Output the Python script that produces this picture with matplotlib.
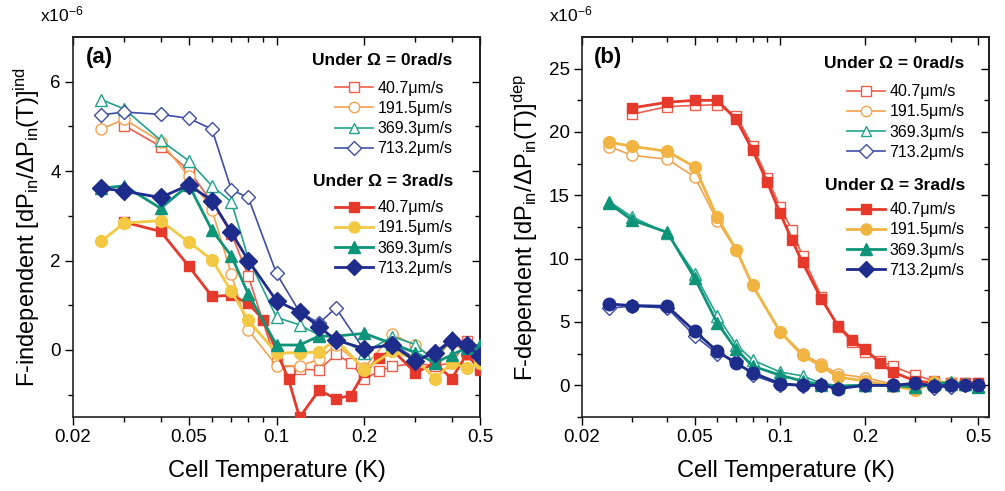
import matplotlib
matplotlib.use("Agg")
import matplotlib.pyplot as plt
from matplotlib.ticker import FixedLocator, NullFormatter, FixedFormatter
from matplotlib.lines import Line2D

plt.rcParams['font.family'] = ['Liberation Sans', 'DejaVu Sans']
plt.rcParams['mathtext.default'] = 'regular'

# ---------------- data: panel (a) F-independent ----------------
a_T_red = [0.03, 0.04, 0.05, 0.06, 0.07, 0.08, 0.1, 0.11, 0.12, 0.14, 0.16, 0.18, 0.2, 0.225, 0.25, 0.3, 0.35, 0.4, 0.45, 0.5]
a_red_0 = [5.02, 4.55, 4.02, 3.3, 2.6, 1.65, -0.3, -0.47, -0.43, -0.45, -0.1, -0.29, -0.66, -0.47, -0.37, -0.3, -0.35, -0.3, 0.2, -0.1]
a_T_red3 = [0.03, 0.04, 0.05, 0.06, 0.07, 0.08, 0.09, 0.11, 0.12, 0.14, 0.16, 0.18, 0.2, 0.225, 0.25, 0.3, 0.35, 0.4, 0.45, 0.5]
a_red_3 = [2.86, 2.65, 1.87, 1.2, 1.22, 1.04, 0.68, -0.66, -1.51, -0.9, -1.09, -1.02, -0.5, -0.17, 0.0, -0.51, -0.3, -0.64, -0.1, -0.44]
a_T = [0.025, 0.03, 0.04, 0.05, 0.06, 0.07, 0.08, 0.1, 0.12, 0.14, 0.16, 0.2, 0.25, 0.3, 0.35, 0.4, 0.45, 0.5]
a_org_0 = [4.94, 5.16, 4.66, 3.88, 3.14, 1.69, 0.44, -0.35, -0.36, -0.21, 0.12, -0.4, 0.35, 0.1, -0.2, 0.2, -0.1, 0.0]
a_org_3 = [2.43, 2.84, 2.89, 2.41, 2.02, 1.31, 0.66, -0.07, -0.06, -0.05, 0.24, -0.44, -0.03, -0.2, -0.64, -0.29, -0.4, -0.3]
a_grn_0 = [5.6, 5.39, 4.69, 4.23, 3.67, 3.31, 2.05, 0.73, 0.56, 0.33, 0.3, -0.06, 0.3, 0.12, -0.25, 0.3, 0.0, 0.05]
a_grn_3 = [3.62, 3.67, 3.17, 3.69, 2.68, 2.1, 1.25, 0.11, 0.11, 0.31, 0.31, 0.37, 0.14, -0.06, -0.29, -0.11, 0.05, 0.11]
a_blu_0 = [5.26, 5.32, 5.27, 5.18, 4.94, 3.58, 3.41, 1.71, 0.85, 0.6, 0.94, 0.0, 0.15, -0.2, -0.05, 0.25, 0.1, -0.1]
a_blu_3 = [3.62, 3.55, 3.41, 3.69, 3.34, 2.63, 2.0, 1.1, 0.85, 0.52, 0.22, 0.03, 0.11, -0.25, -0.06, 0.2, 0.11, -0.14]

# ---------------- data: panel (b) F-dependent ----------------
b_T_red = [0.03, 0.04, 0.05, 0.06, 0.07, 0.08, 0.09, 0.1, 0.11, 0.12, 0.14, 0.16, 0.18, 0.2, 0.225, 0.25, 0.3, 0.35, 0.4, 0.45, 0.5]
b_red_3 = [21.9, 22.35, 22.5, 22.5, 21.0, 18.55, 16.06, 13.6, 11.5, 9.7, 6.8, 4.7, 3.56, 2.83, 1.78, 1.05, 0.34, 0.2, 0.15, 0.2, 0.2]
b_red_0 = [21.4, 22.0, 22.1, 22.15, 21.3, 18.9, 16.4, 14.1, 12.3, 10.2, 7.0, 4.6, 3.4, 2.6, 1.9, 1.5, 0.8, 0.35, 0.2, 0.2, 0.2]
b_T = [0.025, 0.03, 0.04, 0.05, 0.06, 0.07, 0.08, 0.1, 0.12, 0.14, 0.16, 0.2, 0.25, 0.3, 0.35, 0.4, 0.45, 0.5]
b_org_3 = [19.2, 18.87, 18.47, 17.24, 13.26, 10.7, 7.89, 4.22, 2.36, 1.52, 0.65, 0.34, -0.05, -0.37, 0.25, 0.2, 0.1, 0.0]
b_org_0 = [18.85, 18.16, 17.85, 16.45, 13.0, 10.7, 7.9, 4.25, 2.5, 1.65, 0.9, 0.6, 0.1, -0.1, 0.2, 0.15, 0.1, 0.05]
b_grn_3 = [14.36, 13.05, 12.08, 8.46, 4.93, 2.83, 1.52, 0.8, 0.34, 0.05, -0.1, 0.0, 0.0, -0.15, 0.1, 0.25, 0.1, -0.1]
b_grn_0 = [14.5, 13.3, 12.0, 8.8, 5.5, 3.2, 2.0, 1.05, 0.75, 0.15, 0.0, 0.05, 0.0, 0.0, 0.2, 0.1, 0.1, -0.05]
b_blu_3 = [6.42, 6.3, 6.24, 4.27, 2.7, 1.73, 1.0, 0.13, 0.0, 0.0, -0.26, 0.0, 0.0, 0.16, -0.05, 0.0, 0.0, 0.0]
b_blu_0 = [6.1, 6.25, 6.1, 3.9, 2.5, 1.95, 0.8, 0.05, -0.05, 0.0, -0.2, 0.0, 0.0, 0.05, -0.2, -0.1, 0.0, -0.05]

speeds = ['40.7\u03bcm/s', '191.5\u03bcm/s', '369.3\u03bcm/s', '713.2\u03bcm/s']
headers = ['Under \u03a9 = 0rad/s', 'Under \u03a9 = 3rad/s']
xticks_major = [0.02, 0.05, 0.1, 0.2, 0.5]
xticks_minor = [0.03, 0.04, 0.06, 0.07, 0.08, 0.09, 0.3, 0.4]

# colours
c_open = ['#EC5E4B', '#F5A24E', '#22A38C', '#3E4EA8']
c_fill_a = ['#E5392B', '#F3C842', '#0E9479', '#1E2C8C']
c_fill_b = ['#E5392B', '#F1B342', '#0E9479', '#1E2C8C']
m_open = ['s', 'o', '^', 'D']
m_fill = ['s', 'o', '^', 'D']
ms_fill = [7.5, 8.5, 8.5, 9]
ms_open = [7, 8, 8, 7.5]

W, H = 1005, 491
fig = plt.figure(figsize=(W / 100, H / 100), dpi=100)
ax_a = fig.add_axes([73 / W, (H - 417) / H, 407 / W, 380 / H])
ax_b = fig.add_axes([582 / W, (H - 417) / H, 407 / W, 380 / H])


def plot_open(ax, T, y, i):
    ax.plot(T, y, color=c_open[i], lw=1.2, marker=m_open[i], ms=ms_open[i],
            mfc='white', mec=c_open[i], mew=1.0, zorder=2)


def plot_fill(ax, T, y, i, cols, marker=None):
    ax.plot(T, y, color=cols[i], lw=2.0, marker=marker or m_fill[i], ms=ms_fill[i],
            mfc=cols[i], mec=cols[i], mew=1.0, zorder=3)


# panel a
plot_open(ax_a, a_T_red, a_red_0, 0)
plot_open(ax_a, a_T, a_org_0, 1)
plot_open(ax_a, a_T, a_grn_0, 2)
plot_open(ax_a, a_T, a_blu_0, 3)
plot_fill(ax_a, a_T_red3, a_red_3, 0, c_fill_a)
plot_fill(ax_a, a_T, a_org_3, 1, c_fill_a)
plot_fill(ax_a, a_T, a_grn_3, 2, c_fill_a)
plot_fill(ax_a, a_T, a_blu_3, 3, c_fill_a)

# panel b
plot_open(ax_b, b_T_red, b_red_0, 0)
plot_open(ax_b, b_T, b_org_0, 1)
plot_open(ax_b, b_T, b_grn_0, 2)
plot_open(ax_b, b_T, b_blu_0, 3)
plot_fill(ax_b, b_T_red, b_red_3, 0, c_fill_b)
plot_fill(ax_b, b_T, b_org_3, 1, c_fill_b)
plot_fill(ax_b, b_T, b_grn_3, 2, c_fill_b)
plot_fill(ax_b, b_T, b_blu_3, 3, c_fill_b, marker='o')


def fx(px):
    return px / W


def fy(py):
    return 1 - py / H


def style(ax, xlim, ylim, ymaj, ymin, ylabel, tag, tagx, fillcols, leg):
    ax.set_xscale('log')
    ax.set_xlim(*xlim)
    ax.set_ylim(*ylim)
    ax.xaxis.set_major_locator(FixedLocator(xticks_major))
    ax.xaxis.set_major_formatter(FixedFormatter(['0.02', '0.05', '0.1', '0.2', '0.5']))
    ax.xaxis.set_minor_locator(FixedLocator(xticks_minor))
    ax.xaxis.set_minor_formatter(NullFormatter())
    ax.yaxis.set_major_locator(FixedLocator(ymaj))
    ax.yaxis.set_minor_locator(FixedLocator(ymin))
    ax.tick_params(which='major', direction='out', length=6, width=1.0, labelsize=13.5, pad=3)
    ax.tick_params(which='minor', direction='out', length=3.5, width=1.0)
    for s in ax.spines.values():
        s.set_linewidth(1.2)
        s.set_color('#222222')
    ax.set_xlabel('Cell Temperature (K)', fontsize=17, labelpad=10)
    ax.set_ylabel(ylabel, fontsize=17, labelpad=6)
    # mirrored inward ticks on top and right
    top = ax.secondary_xaxis('top')
    top.xaxis.set_major_locator(FixedLocator(xticks_major))
    top.xaxis.set_minor_locator(FixedLocator(xticks_minor))
    top.xaxis.set_major_formatter(NullFormatter())
    top.xaxis.set_minor_formatter(NullFormatter())
    top.tick_params(which='major', direction='in', length=6, width=1.0)
    top.tick_params(which='minor', direction='in', length=3.5, width=1.0)
    top.spines['top'].set_linewidth(1.2)
    right = ax.secondary_yaxis('right')
    right.yaxis.set_major_locator(FixedLocator(ymaj))
    right.yaxis.set_minor_locator(FixedLocator(ymin))
    right.yaxis.set_major_formatter(NullFormatter())
    right.tick_params(which='major', direction='in', length=6, width=1.0)
    right.tick_params(which='minor', direction='in', length=3.5, width=1.0)
    right.spines['right'].set_linewidth(1.2)
    fig.text(fx(tagx), fy(47), tag, fontsize=16, fontweight='bold', ha='left', va='top')
    bb = ax.get_position()
    fig.text(bb.x0 - 33 / W, fy(24), r'x10$^{-6}$', fontsize=12.5, ha='left', va='bottom')
    # legends (headers as text, entries as legends)
    hx, hy0, hy1, lx, ly0, ly1 = leg
    fig.text(fx(hx), fy(hy0), headers[0], fontsize=12.5, fontweight='bold', ha='right', va='center')
    fig.text(fx(hx + 1), fy(hy1), headers[1], fontsize=12.5, fontweight='bold', ha='right', va='center')
    h0 = [Line2D([], [], color=c_open[i], lw=1.2, marker=m_open[i], ms=ms_open[i] - 0.5,
                 mfc='white', mec=c_open[i], mew=1.0) for i in range(4)]
    h3 = [Line2D([], [], color=fillcols[i], lw=2.0, marker=m_fill[i], ms=ms_fill[i] - 0.5,
                 mfc=fillcols[i], mec=fillcols[i]) for i in range(4)]
    kw = dict(frameon=False, fontsize=11.5, handlelength=2.35, handletextpad=0.3,
              labelspacing=0.33, borderpad=0, borderaxespad=0, loc='center left',
              bbox_transform=fig.transFigure)
    leg0 = ax.legend(h0, speeds, bbox_to_anchor=(fx(lx), fy(ly0)), **kw)
    ax.add_artist(leg0)
    ax.legend(h3, speeds, bbox_to_anchor=(fx(lx), fy(ly1)), **kw)


style(ax_a, (0.02, 0.5), (-1.5, 7), [0, 2, 4, 6], [-1, 1, 3, 5],
      r'F-independent [dP$_{in}$/$\Delta$P$_{in}$(T)]$^{ind}$', '(a)', 86, c_fill_a,
      (452, 60.7, 181.7, 335, 118.5, 238))
style(ax_b, (0.02, 0.546), (-2.5, 27.5), [0, 5, 10, 15, 20, 25], [-2.5, 2.5, 7.5, 12.5, 17.5, 22.5],
      r'F-dependent [dP$_{in}$/$\Delta$P$_{in}$(T)]$^{dep}$', '(b)', 594, c_fill_b,
      (964, 63.3, 185, 847, 122, 240))

fig.savefig('out.png', dpi=100)
